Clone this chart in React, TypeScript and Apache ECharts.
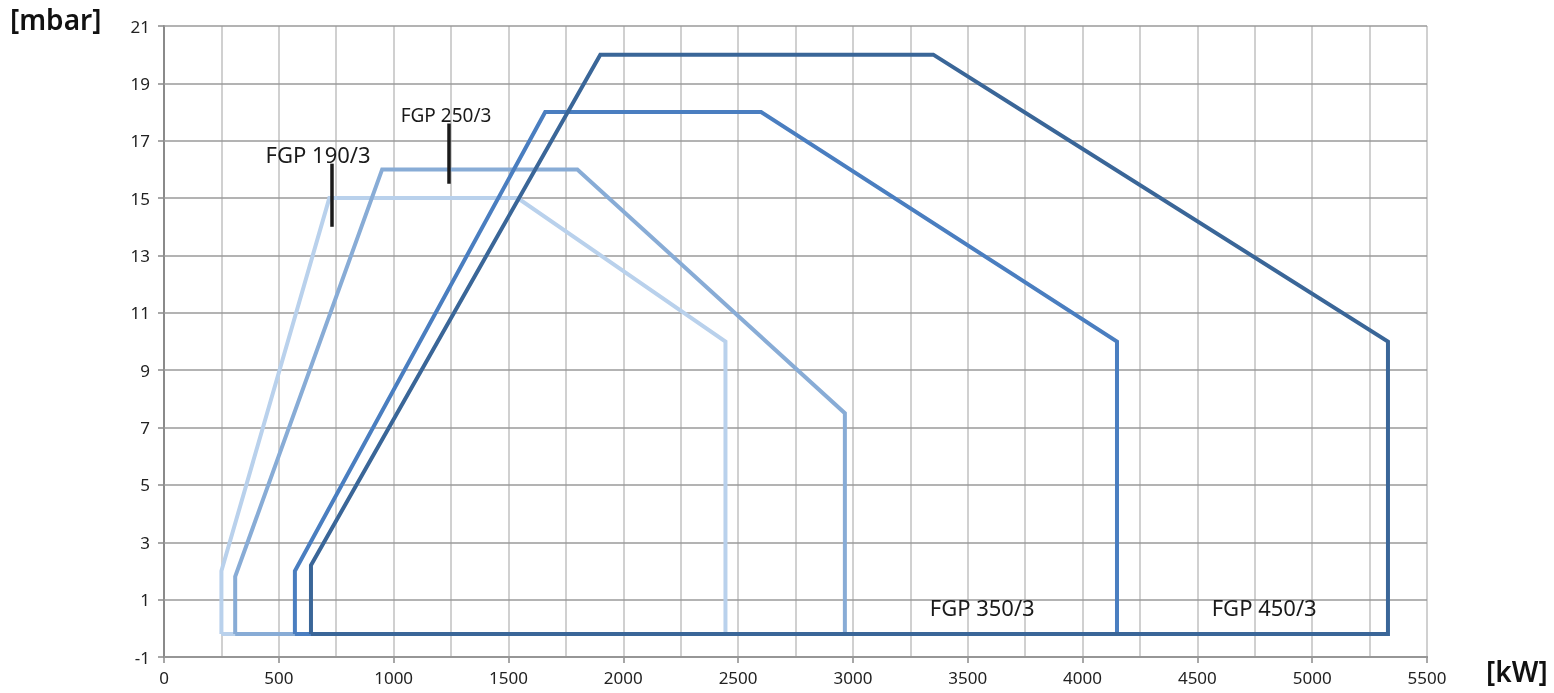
import React, { useEffect, useRef } from "react";
import * as echarts from "echarts";

const seriesNames = ["FGP 190/3", "FGP 250/3", "FGP 350/3", "FGP 450/3"];
const seriesColors = ["#b9d1ec", "#88acd6", "#4a7ec0", "#3a6698"];

// closed outlines of each working field [kW, mbar]
const fgp190: number[][] = [[250, -0.2], [250, 2], [720, 15], [1540, 15], [2445, 10], [2445, -0.2], [250, -0.2]];
const fgp250: number[][] = [[310, -0.2], [310, 1.8], [950, 16], [1800, 16], [2965, 7.5], [2965, -0.2], [310, -0.2]];
const fgp350: number[][] = [[570, -0.2], [570, 2], [1660, 18], [2600, 18], [4150, 10], [4150, -0.2], [570, -0.2]];
const fgp450: number[][] = [[640, -0.2], [640, 2.2], [1900, 20], [3350, 20], [5330, 10], [5330, -0.2], [640, -0.2]];
const seriesData = [fgp190, fgp250, fgp350, fgp450];

const yTickValues = [-1, 1, 3, 5, 7, 9, 11, 13, 15, 17, 19, 21];

// annotation labels: [x, y] in data units
const labelTexts = ["FGP 190/3", "FGP 250/3", "FGP 350/3", "FGP 450/3"];
const labelPos: number[][] = [[671, 16.55], [1228, 17.9], [3563, 0.74], [4791, 0.74]];
const labelSizes = [22, 19, 22, 22];
// black marker ticks
const markerLines: number[][][] = [
  [[730, 14], [730, 16.2]],
  [[1240, 15.5], [1240, 17.6]],
];

const FONT = "'Noto Sans', sans-serif";

export default function App() {
  const ref = useRef<HTMLDivElement>(null);
  useEffect(() => {
    if (!ref.current) return;
    const chart = echarts.init(ref.current, undefined, { renderer: "svg" });
    const lineSeries = seriesData.map((d, i) => ({
      name: seriesNames[i],
      type: "line",
      data: d,
      showSymbol: false,
      symbol: "none",
      lineStyle: { color: seriesColors[i], width: 4, join: "miter" },
      z: 6 + i,
    }));
    chart.setOption({
      animation: false,
      textStyle: { fontFamily: FONT },
      grid: { left: 164, right: 127, top: 26, bottom: 36 },
      xAxis: {
        type: "value",
        min: 0,
        max: 5500,
        interval: 500,
        axisLine: { show: true, onZero: false, lineStyle: { color: "#8a8a8a", width: 2 } },
        axisTick: { show: true, length: 6, lineStyle: { color: "#8a8a8a", width: 1.5 } },
        axisLabel: { color: "#222", fontSize: 17, fontFamily: FONT, margin: 12, formatter: (v: number) => String(v) },
        splitLine: { show: true, lineStyle: { color: "#c0c0c0", width: 1.5 } },
        minorTick: { show: false, splitNumber: 2 },
        minorSplitLine: { show: true, lineStyle: { color: "#c0c0c0", width: 1.5 } },
      },
      yAxis: {
        type: "value",
        min: -1,
        max: 21,
        axisLine: { show: true, onZero: false, lineStyle: { color: "#8a8a8a", width: 2 } },
        axisTick: { show: true, length: 6, customValues: yTickValues, lineStyle: { color: "#8a8a8a", width: 1.5 } },
        axisLabel: { color: "#222", fontSize: 17, fontFamily: FONT, margin: 14, customValues: yTickValues },
        splitLine: { show: false },
      },
      graphic: [
        { type: "text", left: 10, top: 5, style: { text: "[mbar]", fontSize: 28, fontWeight: 600, fontFamily: FONT, fill: "#111" } },
        { type: "text", left: 1486, top: 657, style: { text: "[kW]", fontSize: 28, fontWeight: 600, fontFamily: FONT, fill: "#111" } },
      ],
      series: [
        {
          type: "line",
          data: [],
          silent: true,
          z: 1,
          markLine: {
            silent: true,
            symbol: "none",
            animation: false,
            z: 1,
            label: { show: false },
            lineStyle: { color: "#9a9a9a", width: 1.5, type: "solid" },
            data: yTickValues.map((v) => ({ yAxis: v })),
          },
        },
        ...lineSeries,
        {
          type: "line",
          data: [],
          silent: true,
          z: 12,
          markLine: {
            silent: true,
            symbol: "none",
            animation: false,
            z: 12,
            label: { show: false },
            lineStyle: { color: "#1a1a1a", width: 3.5, type: "solid", opacity: 1 },
            data: markerLines.map((m) => [{ coord: m[0] }, { coord: m[1] }]),
          },
        },
        {
          type: "scatter",
          symbolSize: 0,
          silent: true,
          itemStyle: { opacity: 1 },
          data: labelPos.map((p, i) => ({
            value: p,
            label: {
              show: true,
              position: "inside",
              formatter: labelTexts[i],
              fontSize: labelSizes[i],
              color: "#1a1a1a",
              opacity: 1,
              fontFamily: FONT,
            },
          })),
          z: 13,
        },
      ],
    });
    return () => chart.dispose();
  }, []);
  return <div ref={ref} style={{ position: "fixed", left: 0, top: 0, width: 1554, height: 693 }} />;
}
